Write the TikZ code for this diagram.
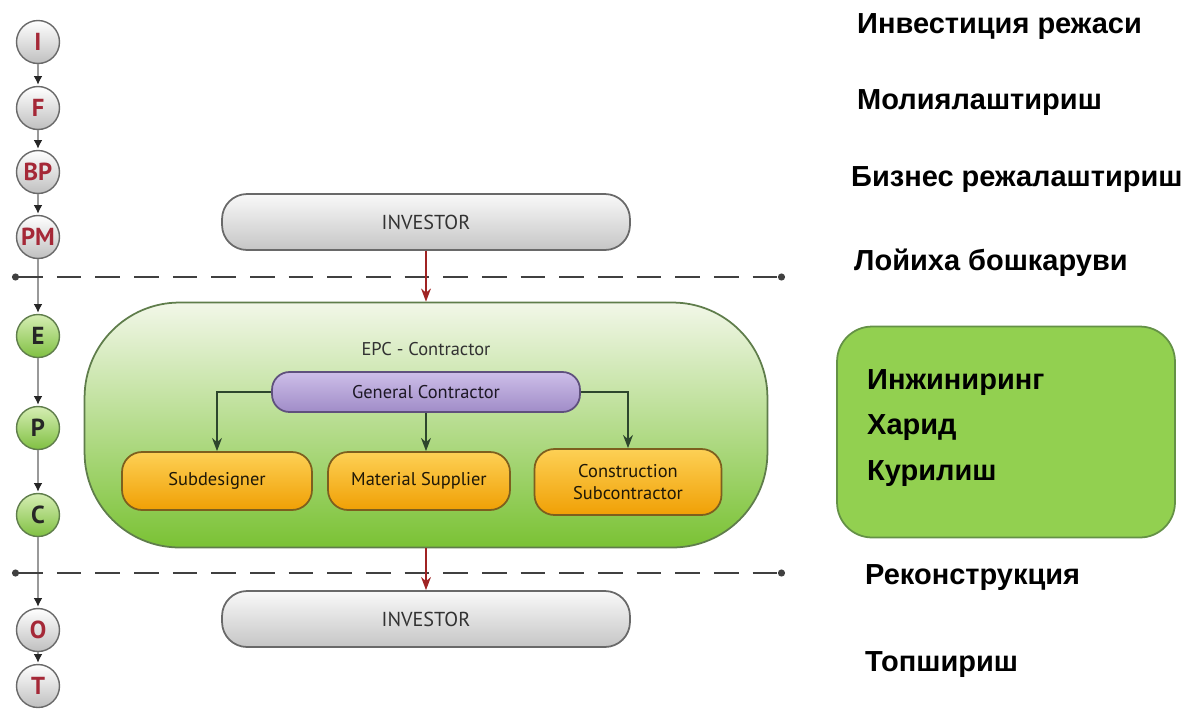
\documentclass[tikz,border=0pt]{standalone}
\usepackage{fontspec}
\setmainfont{PT Sans}
\newfontfamily\labfont{Liberation Sans}
\usepackage{tikz}
\usetikzlibrary{arrows.meta,positioning}
\definecolor{grisBord}{RGB}{105,105,105}
\definecolor{grisTexte}{RGB}{50,50,50}
\definecolor{rougeLettre}{RGB}{165,40,55}
\definecolor{rougeFleche}{RGB}{160,35,35}
\definecolor{vertClair}{RGB}{214,238,180}
\definecolor{vertMoyen}{RGB}{128,192,66}
\definecolor{vertBord}{RGB}{95,125,75}
\definecolor{vertHaut}{RGB}{242,247,232}
\definecolor{vertBas}{RGB}{122,194,52}
\definecolor{vertBoite}{RGB}{146,208,80}
\definecolor{vertBoiteBord}{RGB}{100,145,70}
\definecolor{violetHaut}{RGB}{205,190,232}
\definecolor{violetBas}{RGB}{160,140,200}
\definecolor{violetBord}{RGB}{95,80,125}
\definecolor{orangeHaut}{RGB}{253,208,85}
\definecolor{orangeBas}{RGB}{240,160,5}
\definecolor{orangeBord}{RGB}{125,95,30}
\definecolor{lienVert}{RGB}{45,70,45}

\begin{document}
\begin{tikzpicture}[x=0.02cm,y=-0.02cm,
  etape/.style={circle,minimum size=0.86cm,inner sep=0pt,draw=grisBord,line width=0.8pt,
               top color=white,bottom color=gray!50,text=rougeLettre,
               font=\bfseries\fontsize{14}{14}\selectfont},
  etapeV/.style={etape,top color=vertClair,bottom color=vertMoyen,draw=vertBord,text=black!85},
  pilule/.style={rectangle,rounded corners=0.5cm,minimum width=8.16cm,minimum height=1.12cm,
                 draw=grisBord,line width=1pt,top color=gray!5,bottom color=gray!45,
                 text=grisTexte,font=\fontsize{11.5}{11.5}\selectfont},
  bloc/.style={rectangle,rounded corners=0.4cm,minimum height=1.16cm,align=center,
               draw=orangeBord,line width=1pt,top color=orangeHaut,bottom color=orangeBas,
               text=black!75!orangeBord,font=\fontsize{10.5}{12.5}\selectfont},
  etiq/.style={anchor=west,font=\labfont\bfseries\fontsize{16.5}{16.5}\selectfont},
  fil/.style={draw=gray!80,line width=1pt,-{Latex[length=5pt,width=5pt,color=black!85]},shorten >=0.5pt},
  tiret/.style={draw=black!75,line width=1pt,dash pattern=on 14pt off 8pt,
                {Circle[length=4pt]}-{Circle[length=4pt]}}]

  \useasboundingbox (0,0) rectangle (1190,708);

  % etapes du projet
  \node[etape]  (I)  at (38,42)  {I};
  \node[etape]  (F)  at (38,108) {F};
  \node[etape]  (BP) at (38,172) {BP};
  \node[etape]  (PM) at (38,237) {PM};
  \node[etapeV] (E)  at (38,336) {E};
  \node[etapeV] (P)  at (38,428) {P};
  \node[etapeV] (C)  at (38,515) {C};
  \node[etape]  (O)  at (38,630) {O};
  \node[etape]  (T)  at (38,686) {T};

  \draw[fil] (I)--(F);
  \draw[fil] (F)--(BP);
  \draw[fil] (BP)--(PM);
  \draw[fil] (PM)--(E);
  \draw[fil] (E)--(P);
  \draw[fil] (P)--(C);
  \draw[fil] (C)--(O);
  \draw[fil] (O)--(T);

  % limites
  \coordinate (g1) at (12,277);
  \coordinate (d1) at (785,277);
  \coordinate (g2) at (12,573);
  \coordinate (d2) at (785,573);
  \draw[tiret] (g1)--(d1);
  \draw[tiret] (g2)--(d2);

  % schema EPC
  \node[pilule] (inv1) at (426,222) {INVESTOR};
  \node[rectangle,rounded corners=1.9cm,minimum width=13.66cm,minimum height=4.9cm,
        draw=vertBord,line width=1pt,top color=vertHaut,bottom color=vertBas] (epc) at (426,425) {};
  \node[pilule] (inv2) at (426,619) {INVESTOR};
  \node[text=grisTexte,font=\fontsize{10.5}{10.5}\selectfont] (epcTitre) at (426,349) {EPC - Contractor};
  \node[rectangle,rounded corners=0.35cm,minimum width=6.16cm,minimum height=0.8cm,
        draw=violetBord,line width=1pt,top color=violetHaut,bottom color=violetBas,
        text=black!70!violetBord,font=\fontsize{10.5}{10.5}\selectfont] (gc) at (426,392) {General Contractor};
  \node[bloc,minimum width=3.8cm]  (sub)  at (217,481) {Subdesigner};
  \node[bloc,minimum width=3.64cm] (mat)  at (419,481) {Material Supplier};
  \node[bloc,minimum width=3.74cm,minimum height=1.32cm] (cons) at (628,482) {Construction\\Subcontractor};

  \draw[-{Stealth},rougeFleche,line width=1pt] (inv1)--(epc);
  \draw[-{Stealth},rougeFleche,line width=1pt] (epc)--(inv2);
  \draw[-{Stealth},lienVert,line width=1pt] (gc.west)-|(sub.north);
  \draw[-{Stealth},lienVert,line width=1pt] (gc.south)--(gc.south|-mat.north);
  \draw[-{Stealth},lienVert,line width=1pt] (gc.east)-|(cons.north);

  % libelles
  \node[etiq] (lI)  at (851,27)  {Инвестиция режаси};
  \node[etiq] (lF)  at (851,103) {Молиялаштириш};
  \node[etiq] (lBP) at (845,180) {Бизнес режалаштириш};
  \node[etiq] (lPM) at (848,263) {Лойиха бошкаруви};
  \node[rectangle,rounded corners=0.7cm,minimum width=6.76cm,minimum height=4.22cm,
        fill=vertBoite,draw=vertBoiteBord,line width=1pt] (epcBoite) at (1006,432) {};
  \node[etiq,align=left,font=\labfont\bfseries\fontsize{16.5}{26}\selectfont] (lEPC) at (861,428)
    {Инжиниринг\\Харид\\Курилиш};
  \node[etiq] (lO) at (859,578) {Реконструкция};
  \node[etiq] (lT) at (859,665) {Топшириш};
\end{tikzpicture}
\end{document}
